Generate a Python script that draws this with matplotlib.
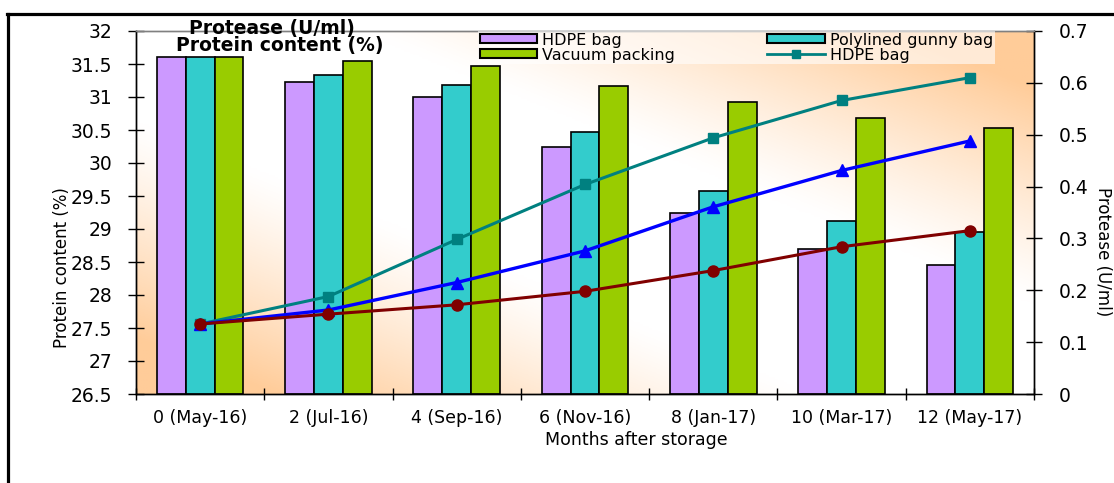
#!/usr/bin/env python3
# protein content (bars) and protease activity (lines) during storage
import numpy as np
import matplotlib as mpl
mpl.use('Agg')
import matplotlib.pyplot as plt
from matplotlib.lines import Line2D
from matplotlib.patches import Patch

#--------------------------------------------------
# data
months  = ['0 (May-16)', '2 (Jul-16)', '4 (Sep-16)', '6 (Nov-16)',
           '8 (Jan-17)', '10 (Mar-17)', '12 (May-17)']
protHDPE = [31.60, 31.22, 31.00, 30.25, 29.24, 28.70, 28.46]  # protein content (%)
protPoly = [31.60, 31.33, 31.18, 30.47, 29.57, 29.12, 28.95]
protVac  = [31.60, 31.55, 31.47, 31.17, 30.92, 30.68, 30.53]
pHDPE = [0.135, 0.188, 0.298, 0.404, 0.494, 0.566, 0.610]   # protease (U/ml)
pPoly = [0.135, 0.162, 0.215, 0.276, 0.361, 0.431, 0.488]
pVac  = [0.135, 0.154, 0.172, 0.198, 0.238, 0.284, 0.315]

#--------------------------------------------------
# colours
Purple = '#CC99FF'
Teal   = '#33CCCC'
Green  = '#99CC00'
TealL  = '#008080'
BlueL  = '#0000FF'
RedL   = '#800000'
Peach  = np.array([255, 204, 153])/255.

W, H = 1114, 483
plt.rcParams['font.family'] = 'DejaVu Sans'
fig = plt.figure(figsize=(W/100, H/100), dpi=100)
ax = fig.add_axes([136/W, (H-394)/H, 898/W, 363/H])

# diagonal gradient background (white along the anti-diagonal, peach in two corners)
u = np.linspace(0, 1, 300)
v = np.linspace(1, 0, 200)
U, V = np.meshgrid(u, v)
t = np.abs(U + V - 1)
t = np.clip((t - 0.25)/0.6, 0, 1)**1.2
bg = np.ones((200, 300, 3)) + t[..., None]*(Peach - 1)
ax.imshow(bg, extent=[0, 1, 0, 1], transform=ax.transAxes, aspect='auto', zorder=0)

#--------------------------------------------------
# bars
x = np.arange(len(months))
bw = 0.225
ymin, ymax = 26.5, 32
for off, vals, col in [(-bw, protHDPE, Purple), (0, protPoly, Teal), (bw, protVac, Green)]:
    ax.bar(x+off, np.array(vals)-ymin, bw, bottom=ymin, color=col,
           edgecolor='black', linewidth=1.2, zorder=2)
ax.set_xlim(-0.5, len(months)-0.5)
ax.set_ylim(ymin, ymax)
ax.set_yticks(np.arange(26.5, 32.01, 0.5))
ax.set_yticklabels(['{:g}'.format(y) for y in np.arange(26.5, 32.01, 0.5)])
ax.set_xticks(np.arange(-0.5, len(months)), minor=False)
ax.set_xticklabels([])
ax.set_xticks(x, minor=True)
ax.set_xticklabels(months, minor=True)
ax.tick_params(axis='x', which='major', direction='inout', length=9, width=1)
ax.tick_params(axis='x', which='minor', length=0, pad=11, labelsize=12.5)
ax.tick_params(axis='y', direction='inout', length=12, width=1, pad=11, labelsize=13.5)

#--------------------------------------------------
# lines on secondary axis
ax2 = ax.twinx()
ax2.plot(x, pHDPE, color=TealL, lw=2.2, marker='s', ms=7, zorder=3)
ax2.plot(x, pPoly, color=BlueL, lw=2.4, marker='^', ms=8, zorder=3)
ax2.plot(x, pVac,  color=RedL,  lw=2.2, marker='o', ms=8, zorder=3)
ax2.set_ylim(0, 0.7)
ax2.set_yticks(np.arange(0, 0.71, 0.1))
ax2.set_yticklabels(['{:g}'.format(round(y, 1)) for y in np.arange(0, 0.71, 0.1)])
ax2.tick_params(axis='y', direction='inout', length=12, width=1, pad=12, labelsize=13.5)

for a in (ax, ax2):
    a.spines['top'].set_color('#808080')
    a.spines['top'].set_linewidth(1)
    for s in ('left', 'right', 'bottom'):
        a.spines[s].set_color('black')
        a.spines[s].set_linewidth(1)

#--------------------------------------------------
# legend
handles = [Patch(facecolor=Purple, edgecolor='black', linewidth=1.5),
           Patch(facecolor=Green, edgecolor='black', linewidth=1.5),
           Patch(facecolor=Teal, edgecolor='black', linewidth=1.5),
           Line2D([], [], color=TealL, lw=2, marker='s', ms=6)]
labels = ['HDPE bag', 'Vacuum packing', 'Polylined gunny bag', 'HDPE bag']
leg = ax2.legend(handles, labels, ncol=2, loc='upper left',
                 bbox_to_anchor=((478-136)/898, 1.0),
                 fontsize=11.5, frameon=True, fancybox=False, borderpad=0.1,
                 labelspacing=0.0, handlelength=3.6, handleheight=0.5,
                 handletextpad=0.3, columnspacing=5.8, borderaxespad=0)
leg.get_frame().set_facecolor('white')
leg.get_frame().set_alpha(0.6)
leg.get_frame().set_edgecolor('none')

#--------------------------------------------------
# texts
ax2.text(0.151, (394-29)/363, 'Protease (U/ml)', transform=ax.transAxes,
         ha='center', va='center', fontsize=13.5, fontweight='bold', zorder=5)
ax2.text(0.160, (394-46)/363, 'Protein content (%)', transform=ax.transAxes,
         ha='center', va='center', fontsize=13.5, fontweight='bold', zorder=5)
fig.text(62/W, (H-268)/H, 'Protein content (%)', rotation=90,
         ha='center', va='center', fontsize=12)
fig.text(1103/W, (H-252)/H, 'Protease (U/ml)', rotation=270,
         ha='center', va='center', fontsize=12)
fig.text(636/W, (H-440)/H, 'Months after storage', ha='center', va='center', fontsize=12.5)

# outer frame (only top and left edges visible)
fig.add_artist(Line2D([7/W, 1.0], [(H-13.5)/H]*2, color='black', lw=2.3, transform=fig.transFigure))
fig.add_artist(Line2D([8/W]*2, [0, (H-13.5)/H], color='black', lw=2.3, transform=fig.transFigure))

fig.savefig('out.png', dpi=100)
print('Written file out.png')
